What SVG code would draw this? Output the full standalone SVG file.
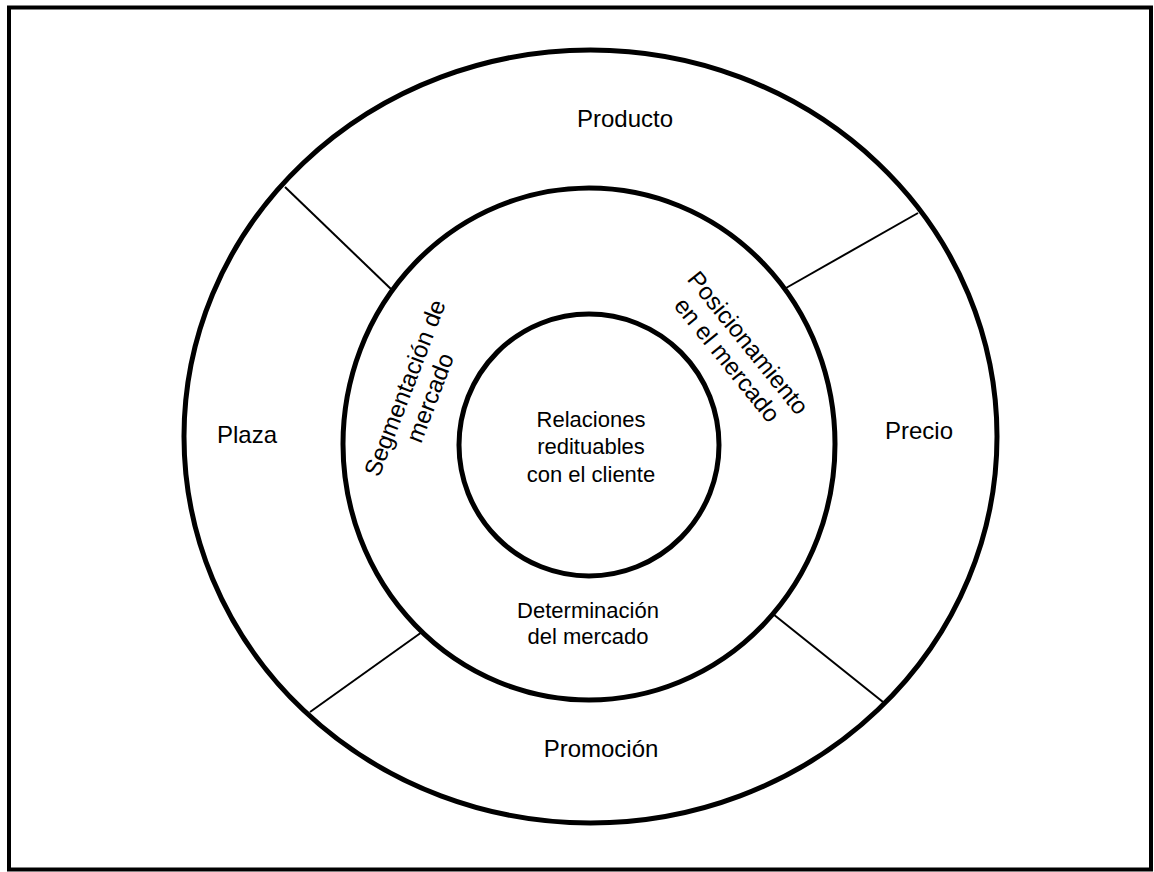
<svg xmlns="http://www.w3.org/2000/svg" width="1154" height="872" viewBox="0 0 1154 872">
<style>
.ring{fill:none;stroke:#000;stroke-width:5}
.frame{fill:#fff;stroke:#000;stroke-width:4}
.div{stroke:#000;stroke-width:2;fill:none}
.lbl{font-family:"Liberation Sans",Arial,sans-serif;font-size:24px;fill:#000;text-anchor:middle}
.in{font-family:"Liberation Sans",Arial,sans-serif;font-size:22px;fill:#000;text-anchor:middle}
.rot{font-family:"Liberation Sans",Arial,sans-serif;font-size:24px;fill:#000;text-anchor:middle}
</style>
<rect class="frame" x="9" y="7.5" width="1142" height="862"/>
<g id="connectors">
<line class="div" x1="285" y1="187" x2="392" y2="290"/>
<line class="div" x1="786" y1="288" x2="918" y2="213"/>
<line class="div" x1="310" y1="712" x2="422" y2="632"/>
<line class="div" x1="773" y1="614" x2="883" y2="702"/>
</g>
<g id="outer">
<ellipse class="ring" cx="590.5" cy="436.5" rx="406.5" ry="386.5"/>
<text class="lbl" x="625" y="127">Producto</text>
<text class="lbl" x="247" y="443">Plaza</text>
<text class="lbl" x="919" y="439">Precio</text>
<text class="lbl" x="601" y="757">Promoción</text>
</g>
<g id="middle">
<ellipse class="ring" cx="589" cy="444" rx="246" ry="256"/>
<g transform="translate(405,388) rotate(-69)">
<text class="rot" x="0" y="8">Segmentación de</text>
<text class="rot" x="0" y="35">mercado</text>
</g>
<g transform="translate(748,343) rotate(51)">
<text class="rot" x="0" y="8">Posicionamiento</text>
<text class="rot" x="0" y="35">en el mercado</text>
</g>
<text class="in" x="588" y="618">Determinación</text>
<text class="in" x="588" y="644">del mercado</text>
</g>
<g id="inner">
<ellipse class="ring" cx="589" cy="445" rx="130" ry="131"/>
<text class="in" x="591" y="427">Relaciones</text>
<text class="in" x="591" y="454">redituables</text>
<text class="in" x="591" y="482">con el cliente</text>
</g>
</svg>
